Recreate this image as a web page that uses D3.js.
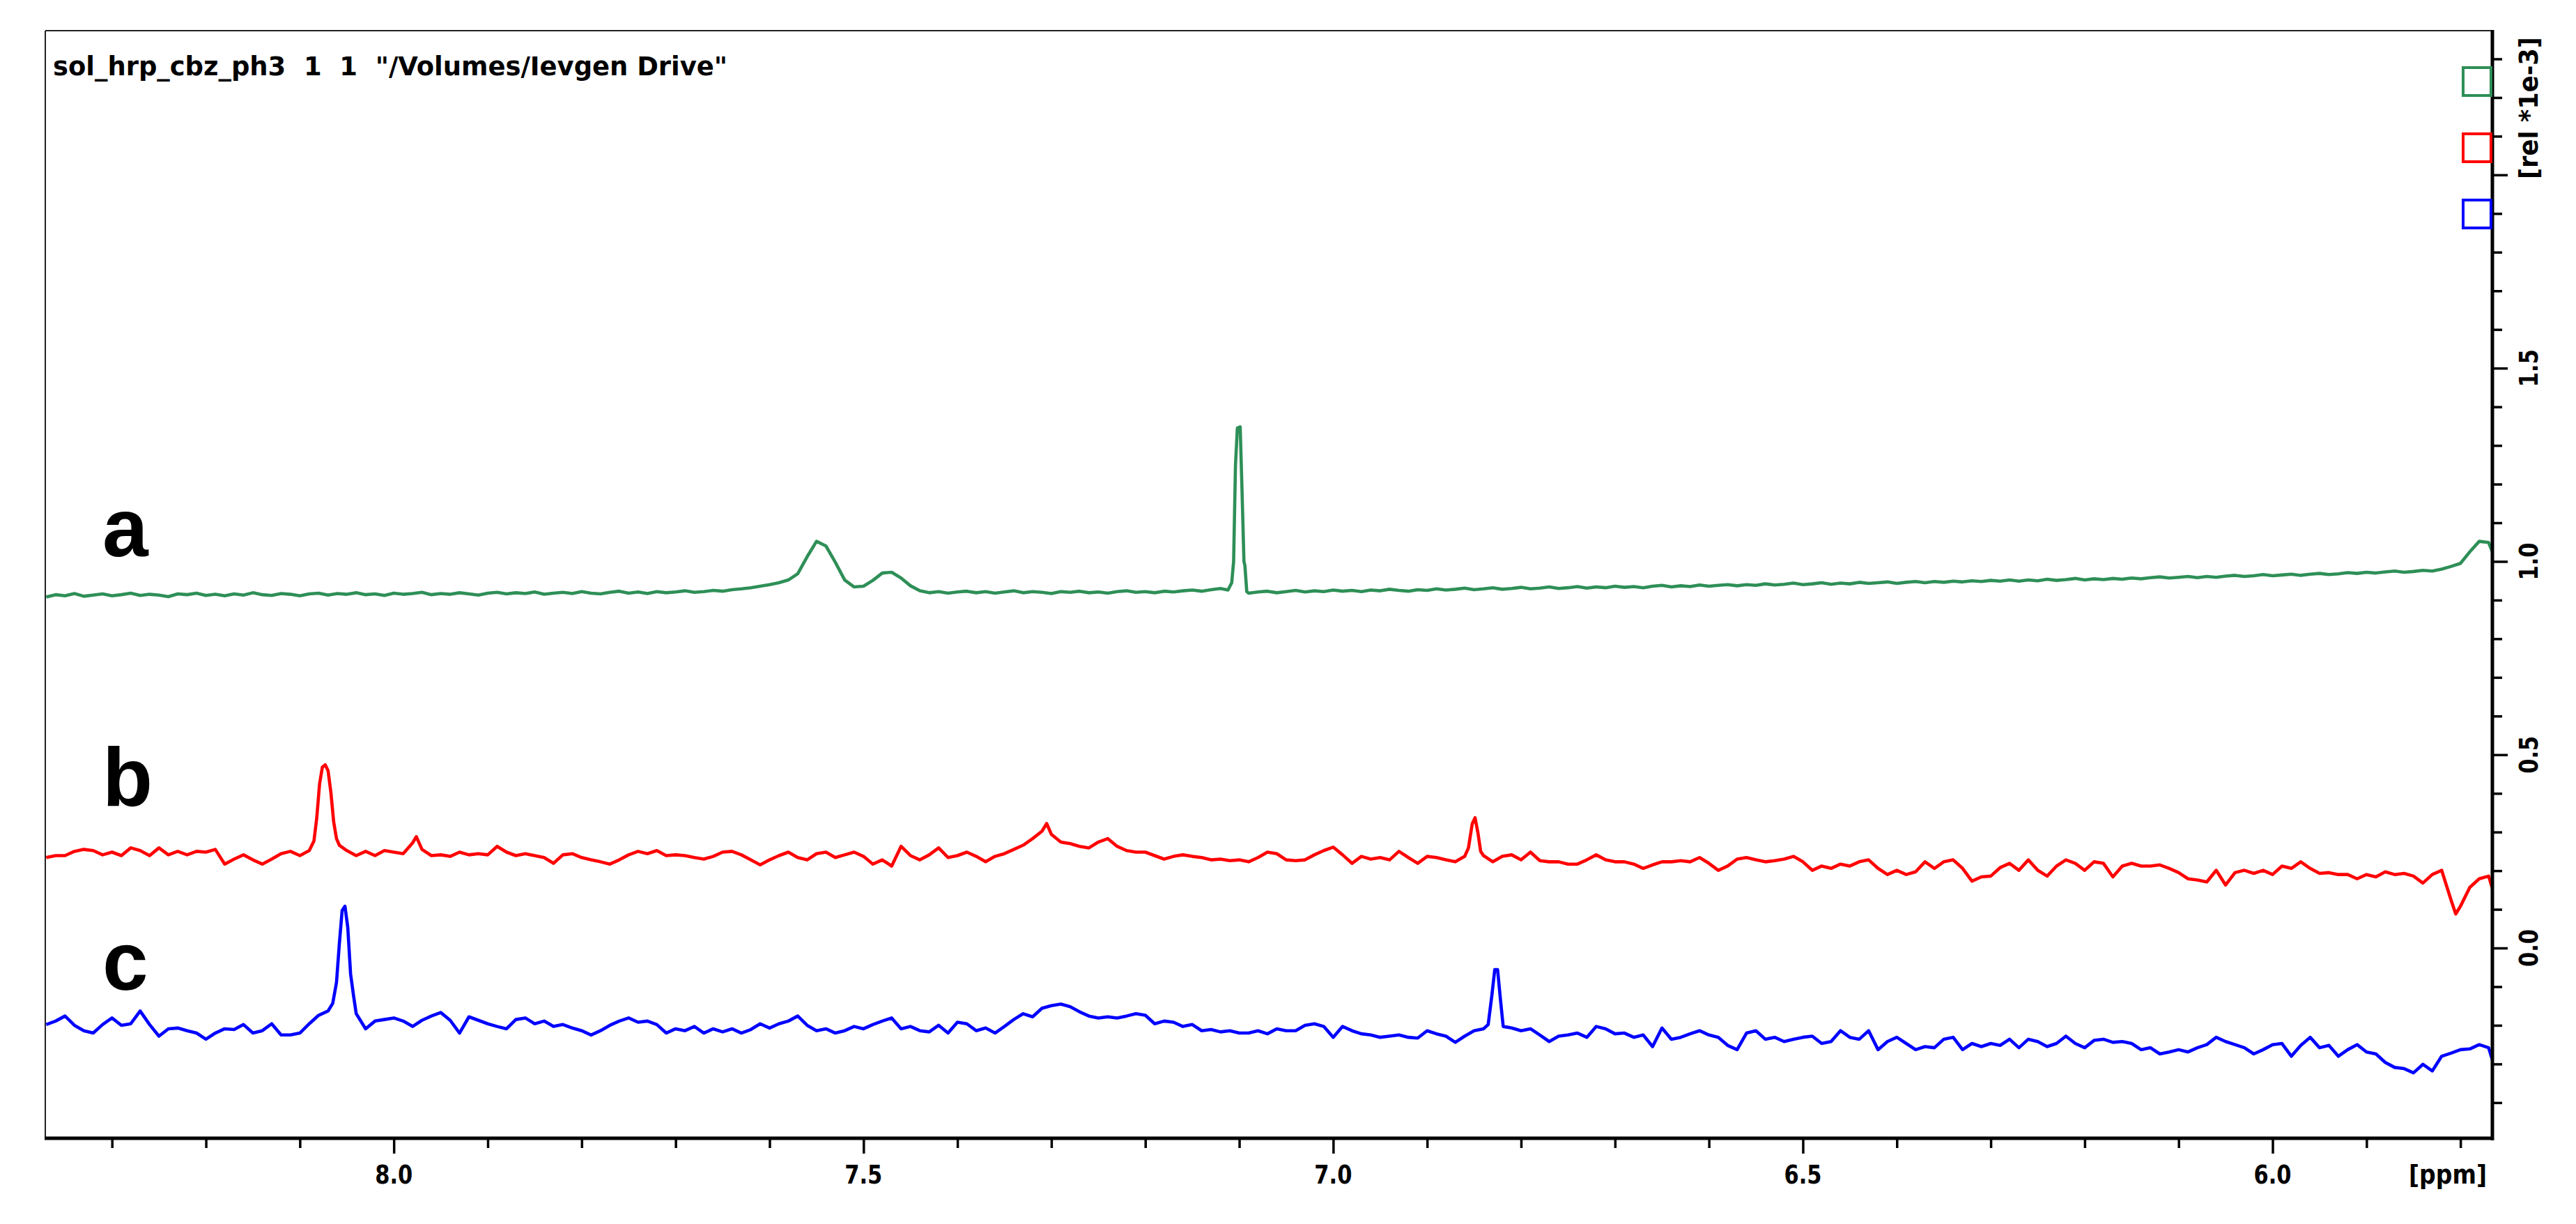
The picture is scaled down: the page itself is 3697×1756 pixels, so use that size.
<!DOCTYPE html>
<html><head><meta charset="utf-8">
<script src="https://cdn.jsdelivr.net/npm/d3@7"></script>
<style>body{margin:0;background:#fff}svg{display:block}</style>
</head><body>
<svg id="c" width="3697" height="1756"></svg>
<script>
// ---------------- DATA ----------------
const title = 'sol_hrp_cbz_ph3  1  1  "/Volumes/Ievgen Drive"';
const seriesNames = ["a", "b", "c"];
const seriesColors = ["#2e8f57", "#ff0000", "#0000ff"];
const xMajorTicks = [8.0, 7.5, 7.0, 6.5, 6.0];
const xMajorLabels = ["8.0", "7.5", "7.0", "6.5", "6.0"];
const yMajorTicks = [0.0, 0.5, 1.0, 1.5, 2.0];
const yMajorLabels = ["0.0", "0.5", "1.0", "1.5", ""];
const xUnit = "[ppm]";
const yUnit = "[rel *1e-3]";
const ppmStart = 8.37, ppmStep = 0.01;   // sampling grid of the arrays below (8.37 ... 5.77)

// spectrum a (green), values in 1e-3 rel
const specA = [
 .908,.914,.911,.917,.910,.913,.916,.911,.914,.918,
 .912,.915,.913,.909,.916,.914,.918,.912,.915,.911,
 .916,.913,.919,.914,.912,.917,.915,.911,.916,.918,
 .913,.917,.915,.919,.914,.916,.912,.918,.915,.917,
 .920,.914,.917,.915,.919,.916,.913,.918,.920,.916,
 .919,.917,.921,.915,.918,.920,.917,.922,.918,.916,
 .920,.923,.918,.921,.917,.922,.919,.921,.924,.920,
 .922,.925,.923,.927,.929,.932,.936,.940,.945,.952,
 .968,1.012,1.052,1.040,.998,.952,.934,.936,.951,.970,
 .972,.957,.937,.924,.919,.922,.918,.921,.923,.919,
 .922,.918,.921,.924,.919,.922,.920,.917,.922,.920,
 .923,.919,.921,.918,.922,.924,.920,.922,.919,.923,
 .921,.924,.926,.923,.927,.930,.930,.930,.918,.921,
 .923,.919,.922,.925,.921,.924,.922,.926,.923,.925,
 .922,.926,.924,.928,.925,.923,.927,.925,.929,.926,
 .928,.931,.927,.929,.932,.928,.930,.933,.929,.931,
 .934,.930,.932,.935,.931,.934,.932,.936,.933,.935,
 .932,.936,.938,.934,.937,.935,.939,.936,.938,.940,
 .937,.940,.938,.942,.939,.941,.944,.940,.942,.945,
 .941,.944,.942,.946,.943,.945,.947,.943,.946,.948,
 .945,.948,.946,.949,.947,.950,.948,.951,.949,.952,
 .949,.952,.950,.954,.951,.953,.956,.952,.955,.953,
 .956,.954,.957,.955,.958,.960,.957,.959,.961,.958,
 .961,.959,.962,.964,.961,.963,.966,.963,.965,.967,
 .964,.967,.969,.966,.968,.971,.969,.972,.970,.973,
 .975,.972,.974,.977,.975,.980,.987,.995,1.025,1.052,
 1.049
];
const detailA = [
 [[7.112,.926],[7.108,.945],[7.106,1.0],[7.104,1.25],[7.102,1.345],[7.099,1.348],[7.097,1.18],[7.095,1.0],[7.094,.99],[7.092,.922]],
 [[5.766,1.025]]
];

// spectrum b (red)
const specB = [
 .234,.239,.239,.250,.255,.252,.241,.248,.239,.259,
 .252,.239,.259,.241,.250,.241,.250,.248,.255,.217,
 .230,.241,.228,.217,.230,.244,.250,.239,.252,.270,
 .460,.280,.252,.239,.250,.239,.252,.248,.244,.272,
 .255,.239,.241,.237,.248,.241,.244,.241,.263,.248,
 .239,.244,.239,.234,.219,.241,.244,.234,.228,.223,
 .217,.228,.241,.250,.244,.252,.239,.241,.239,.234,
 .230,.237,.248,.250,.241,.228,.215,.228,.239,.248,
 .234,.228,.244,.248,.234,.241,.248,.237,.217,.228,
 .212,.263,.239,.228,.241,.259,.234,.239,.248,.237,
 .223,.237,.244,.255,.266,.283,.302,.294,.274,.270,
 .263,.259,.274,.283,.263,.252,.248,.248,.239,.230,
 .237,.241,.237,.234,.228,.230,.226,.228,.223,.234,
 .248,.244,.228,.226,.228,.241,.252,.261,.241,.219,
 .237,.230,.234,.228,.250,.234,.219,.237,.234,.228,
 .223,.237,.300,.239,.223,.237,.241,.228,.248,.226,
 .223,.223,.217,.217,.228,.241,.228,.223,.223,.217,
 .206,.215,.223,.223,.226,.223,.234,.219,.201,.212,
 .230,.234,.228,.223,.226,.230,.237,.223,.201,.212,
 .206,.217,.212,.223,.228,.206,.190,.201,.190,.197,
 .223,.206,.223,.228,.206,.173,.184,.186,.208,.219,
 .201,.228,.201,.186,.212,.228,.219,.201,.223,.219,
 .184,.212,.219,.212,.212,.215,.206,.195,.179,.176,
 .171,.201,.163,.195,.201,.193,.201,.190,.212,.206,
 .223,.206,.193,.195,.190,.190,.179,.190,.184,.197,
 .190,.193,.186,.168,.190,.201,.124,.108,.157,.179,
 .186
];
const detailB = [
 [[8.085,.277],[8.082,.337],[8.079,.425],[8.076,.468],[8.073,.474],[8.070,.459],[8.067,.403],[8.064,.326],[8.061,.283],[8.058,.266]],
 [[6.856,.259],[6.852,.321],[6.849,.337],[6.846,.299],[6.843,.250]],
 [[7.976,.288]], [[7.305,.322]], [[5.805,.088]], [[5.766,.154]]
];

// spectrum c (blue)
const specC = [
 -.198,-.189,-.176,-.200,-.214,-.220,-.198,-.181,-.200,-.196,
 -.163,-.198,-.228,-.209,-.207,-.214,-.220,-.236,-.220,-.209,
 -.211,-.198,-.220,-.214,-.196,-.225,-.225,-.220,-.196,-.174,
 -.163,-.100,-.100,-.170,-.209,-.189,-.185,-.181,-.189,-.203,
 -.187,-.176,-.167,-.187,-.220,-.178,-.187,-.196,-.203,-.209,
 -.185,-.181,-.196,-.189,-.203,-.198,-.207,-.214,-.225,-.214,
 -.200,-.189,-.181,-.192,-.189,-.198,-.220,-.209,-.214,-.203,
 -.220,-.209,-.217,-.209,-.220,-.211,-.196,-.207,-.196,-.189,
 -.176,-.200,-.214,-.209,-.220,-.214,-.203,-.209,-.198,-.189,
 -.181,-.209,-.203,-.214,-.217,-.200,-.220,-.192,-.196,-.214,
 -.207,-.220,-.203,-.185,-.170,-.178,-.156,-.149,-.145,-.152,
 -.165,-.176,-.181,-.178,-.181,-.176,-.170,-.174,-.196,-.189,
 -.192,-.203,-.198,-.214,-.211,-.217,-.214,-.220,-.220,-.214,
 -.222,-.209,-.214,-.214,-.200,-.196,-.203,-.231,-.203,-.214,
 -.222,-.225,-.231,-.228,-.225,-.231,-.233,-.214,-.222,-.228,
 -.244,-.228,-.214,-.209,-.150,-.150,-.207,-.214,-.209,-.225,
 -.242,-.228,-.225,-.220,-.231,-.203,-.209,-.222,-.220,-.231,
 -.225,-.255,-.207,-.236,-.231,-.222,-.214,-.225,-.231,-.252,
 -.263,-.220,-.214,-.236,-.231,-.242,-.236,-.231,-.228,-.247,
 -.242,-.214,-.231,-.236,-.214,-.263,-.242,-.231,-.247,-.263,
 -.255,-.258,-.236,-.231,-.263,-.247,-.255,-.247,-.252,-.236,
 -.258,-.236,-.242,-.255,-.247,-.228,-.247,-.258,-.239,-.236,
 -.244,-.242,-.247,-.263,-.258,-.274,-.269,-.263,-.269,-.258,
 -.250,-.231,-.242,-.250,-.258,-.274,-.263,-.250,-.247,-.280,
 -.252,-.231,-.258,-.252,-.280,-.263,-.250,-.269,-.274,-.296,
 -.309,-.312,-.323,-.301,-.318,-.280,-.272,-.263,-.261,-.250,
 -.258
];
const detailC = [
 [[8.065,-.143],[8.061,-.089],[8.058,.010],[8.055,.097],[8.052,.108],[8.049,.053],[8.046,-.067],[8.043,-.121]],
 [[6.835,-.198],[6.831,-.121],[6.828,-.056],[6.825,-.056],[6.822,-.132],[6.819,-.203]],
 [[5.766,-.290]]
];

// ---------------- CHART ----------------
const L = 65, R = 3577, T = 44, B = 1634;
const svg = d3.select("#c");
const x = d3.scaleLinear().domain([8.371, 5.766]).range([L, R]);
const y = d3.scaleLinear().domain([-0.494, 2.373]).range([B, T]);
const FONT = "'DejaVu Sans Condensed','DejaVu Sans',sans-serif";

function build(grid, details) {
  const pts = grid.map((v, i) => [+(ppmStart - i * ppmStep).toFixed(3), v]);
  const kept = pts.filter(p => !details.some(g => g.length > 1 &&
      p[0] <= d3.max(g, d => d[0]) && p[0] >= d3.min(g, d => d[0])));
  const all = kept.concat(...details);
  all.sort((a, b) => b[0] - a[0]);
  return all;
}
const series = [build(specA, detailA), build(specB, detailB), build(specC, detailC)];

svg.append("defs").append("clipPath").attr("id", "plotclip")
  .append("rect").attr("x", L).attr("y", T).attr("width", R - L).attr("height", B - T);

// thin frame (top, left)
svg.append("line").attr("x1", L).attr("x2", R).attr("y1", T).attr("y2", T)
  .attr("stroke", "#222").attr("stroke-width", 2);
svg.append("line").attr("x1", L).attr("x2", L).attr("y1", T).attr("y2", B)
  .attr("stroke", "#222").attr("stroke-width", 2);

// spectra
const line = d3.line().x(d => x(d[0])).y(d => y(d[1]));
svg.append("g").attr("clip-path", "url(#plotclip)")
  .selectAll("path").data(series).join("path")
  .attr("d", line).attr("fill", "none")
  .attr("stroke", (d, i) => seriesColors[i])
  .attr("stroke-width", 4.6).attr("stroke-linejoin", "round");

// bottom axis
const xMinor = d3.range(83, 57, -1).map(v => v / 10).filter(v => !xMajorTicks.some(m => Math.abs(m - v) < 1e-6));
const gx = svg.append("g").attr("transform", `translate(0,${B - 1})`);
gx.call(d3.axisBottom(x).tickValues(xMinor).tickSize(14).tickFormat(""));
gx.call(g => g.select(".domain").remove());
const gx2 = svg.append("g").attr("transform", `translate(0,${B - 1})`);
gx2.call(d3.axisBottom(x).tickValues(xMajorTicks).tickSize(22).tickFormat(""));
gx2.call(g => g.select(".domain").remove());

// right axis
const yMinor = d3.range(-4, 24).map(v => v / 10).filter(v => !yMajorTicks.some(m => Math.abs(m - v) < 1e-6));
const gy = svg.append("g").attr("transform", `translate(${R},0)`);
gy.call(d3.axisRight(y).tickValues(yMinor).tickSize(14).tickFormat(""));
gy.call(g => g.select(".domain").remove());
const gy2 = svg.append("g").attr("transform", `translate(${R},0)`);
gy2.call(d3.axisRight(y).tickValues(yMajorTicks).tickSize(22).tickFormat(""));
gy2.call(g => g.select(".domain").remove());
svg.selectAll(".tick line").attr("stroke", "#000").attr("stroke-width", 3.5);

const labelStyle = sel => sel.attr("font-family", FONT).attr("font-size", 38)
  .attr("font-weight", "bold").attr("fill", "#000").attr("lengthAdjust", "spacingAndGlyphs");

svg.append("g").selectAll("text").data(xMajorTicks).join("text")
  .attr("x", d => x(d)).attr("y", 1698).attr("text-anchor", "middle")
  .call(labelStyle).attr("textLength", 54)
  .text((d, i) => xMajorLabels[i]);
svg.append("text").attr("x", 3569).attr("y", 1698).attr("text-anchor", "end")
  .call(labelStyle).attr("textLength", 112).text(xUnit);

svg.append("g").selectAll("text").data(yMajorTicks.filter((d, i) => yMajorLabels[i] !== "")).join("text")
  .attr("transform", d => `translate(3642,${y(d)}) rotate(-90)`)
  .attr("text-anchor", "middle").call(labelStyle).attr("textLength", 54)
  .text(d => yMajorLabels[yMajorTicks.indexOf(d)]);
svg.append("text").attr("transform", "translate(3642,155) rotate(-90)")
  .attr("text-anchor", "middle").call(labelStyle).attr("textLength", 204).text(yUnit);

// thick axis lines (right, bottom)
svg.append("line").attr("x1", R).attr("x2", R).attr("y1", T - 1).attr("y2", B + 2)
  .attr("stroke", "#000").attr("stroke-width", 5);
svg.append("line").attr("x1", L - 1).attr("x2", R + 2).attr("y1", B - 1).attr("y2", B - 1)
  .attr("stroke", "#000").attr("stroke-width", 5);

// legend squares
svg.append("g").selectAll("rect").data(seriesColors).join("rect")
  .attr("x", 3535).attr("y", (d, i) => 97 + i * 95).attr("width", 40).attr("height", 40)
  .attr("fill", "none").attr("stroke", d => d).attr("stroke-width", 4);

// title
svg.append("text").attr("x", 76).attr("y", 108)
  .attr("font-family", FONT).attr("font-size", 37).attr("font-weight", "bold").attr("fill", "#000")
  .style("white-space", "pre")
  .attr("textLength", 968).attr("lengthAdjust", "spacingAndGlyphs")
  .text(title);

// series letters
const letterBase = [798, 1156, 1420];
svg.append("g").selectAll("text").data(seriesNames).join("text")
  .attr("x", 147).attr("y", (d, i) => letterBase[i])
  .attr("font-family", "'Liberation Sans',Arial,sans-serif").attr("font-weight", "bold")
  .attr("font-size", 118).attr("fill", "#000").text(d => d);
</script>
</body></html>
